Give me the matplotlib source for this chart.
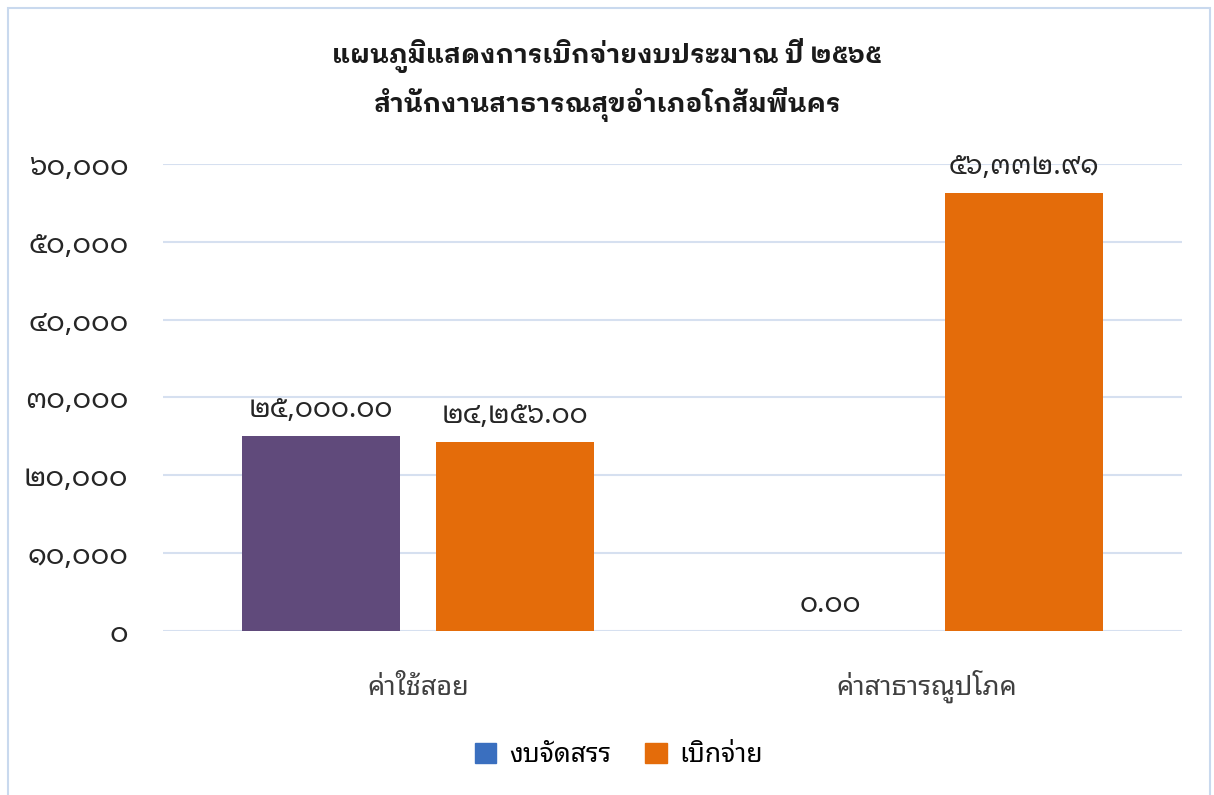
import matplotlib
matplotlib.use("Agg")
import matplotlib.pyplot as plt
from matplotlib.patches import Rectangle

plt.rcParams["font.family"] = ["Noto Sans Thai Looped", "DejaVu Sans"]

categories = ["ค่าใช้สอย", "ค่าสาธารณูปโภค"]
budget = [25000, 0]
spent = [24256, 56332.91]
series_names = ["งบจัดสรร", "เบิกจ่าย"]
title = "แผนภูมิแสดงการเบิกจ่ายงบประมาณ ปี ๒๕๖๕\nสำนักงานสาธารณสุขอำเภอโกสัมพีนคร"
yticks = [0, 10000, 20000, 30000, 40000, 50000, 60000]

thai_digits = str.maketrans("0123456789", "๐๑๒๓๔๕๖๗๘๙")

def thai_num(v, dec=0):
    return f"{v:,.{dec}f}".translate(thai_digits)

fig = plt.figure(figsize=(12.14, 7.95), dpi=100)
ax = fig.add_axes([0.1343, 0.2063, 0.8393, 0.5874])

x = range(len(categories))
w = 0.31
b1 = ax.bar([i - 0.19 for i in x], budget, w, color="#604A7B")
b2 = ax.bar([i + 0.19 for i in x], spent, w, color="#E46C0A")

for bars in (b1, b2):
    for r in bars:
        ax.annotate(thai_num(r.get_height(), 2), (r.get_x() + r.get_width() / 2, r.get_height()),
                    xytext=(0, 12), textcoords="offset pixels", ha="center", va="bottom",
                    fontsize=20, color="#262626")

ax.set_xlim(-0.5, 1.5)
ax.set_ylim(0, 60000)
ax.set_yticks(yticks)
ax.set_yticklabels([thai_num(v) for v in yticks], fontsize=20.5, color="#262626")
ax.set_xticks(list(x))
ax.set_xticklabels(categories, fontsize=19.5, color="#404040", va="baseline")
ax.tick_params(axis="y", length=0, pad=25)
ax.tick_params(axis="x", length=0, pad=46)
ax.grid(axis="y", color="#D6E0F0", linewidth=1.5)
ax.set_axisbelow(True)
for s in ax.spines.values():
    s.set_visible(False)

fig.suptitle(title, y=0.952, fontsize=19, fontweight="bold", color="#1a1a1a", linespacing=1.55,
             family=["IBM Plex Sans Thai Looped", "DejaVu Sans"])

h1 = Rectangle((0, 0), 1, 1, color="#3A6FBF")
h2 = Rectangle((0, 0), 1, 1, color="#E46C0A")
fig.legend([h1, h2], series_names, loc="center", bbox_to_anchor=(0.51, 0.05), ncol=2,
           frameon=False, fontsize=19, handlelength=0.8, handleheight=0.8, columnspacing=1.3,
           handletextpad=0.5)

fig.patches.append(Rectangle((0.007, -0.01), 0.99, 1.0, transform=fig.transFigure,
                             fill=False, edgecolor="#C9D9EE", linewidth=1.5))

fig.savefig("out.png", dpi=100)
